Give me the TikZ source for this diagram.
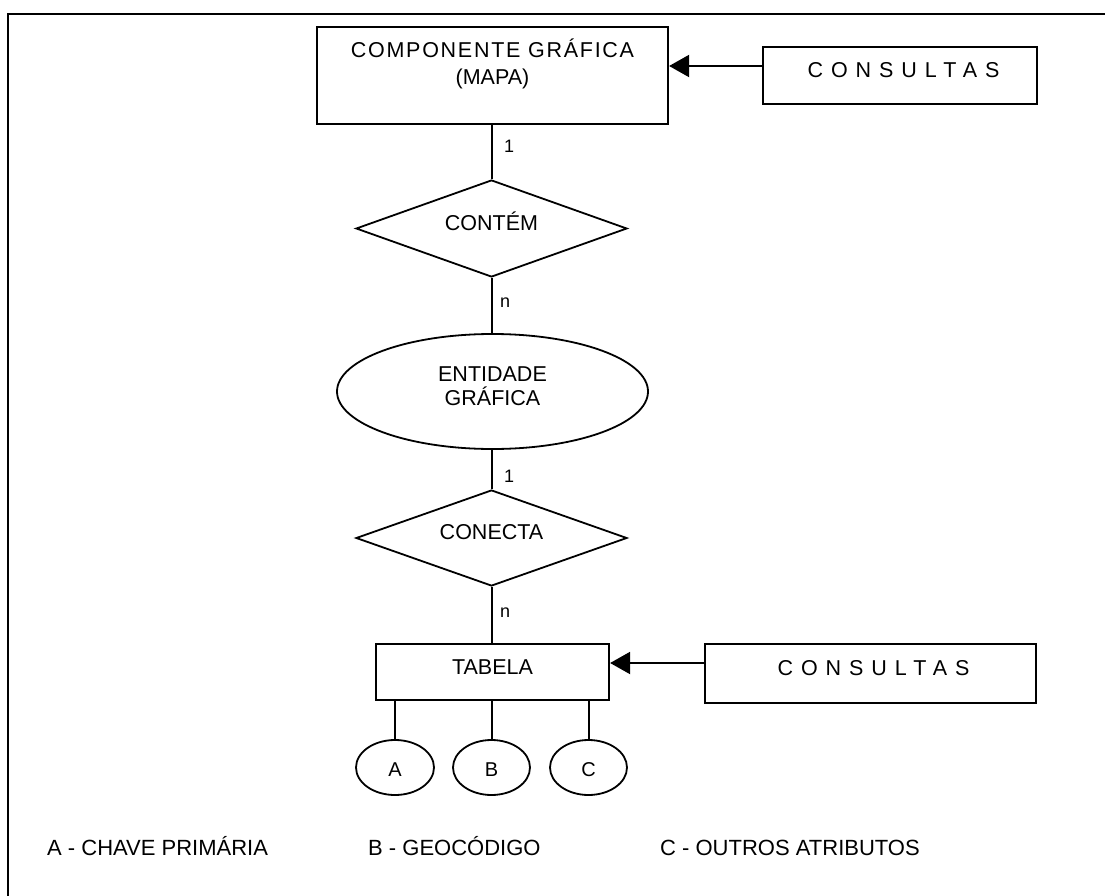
\documentclass[tikz,border=0pt]{standalone}
\usepackage{fontspec}
\setmainfont{Liberation Sans}
\newfontfamily\trackedfont[LetterSpace=37]{Liberation Sans}
\newfontfamily\widefont[LetterSpace=8]{Liberation Sans}
\usetikzlibrary{shapes.geometric,arrows.meta}

\begin{document}
\begin{tikzpicture}[x=1pt,y=-1pt,
  box/.style={draw, line width=2.2pt, inner sep=0pt},
  rel/.style={draw, diamond, line width=1.8pt, inner sep=0pt},
  ent/.style={draw, ellipse, line width=1.8pt, inner sep=0pt},
  txt/.style={inner sep=0pt, anchor=base, font=\fontsize{21.5}{26}\selectfont},
  card/.style={inner sep=0pt, anchor=base west, font=\fontsize{18}{22}\selectfont},
  legend/.style={inner sep=0pt, anchor=base west, font=\fontsize{22}{26}\selectfont},
  link/.style={line width=2pt},
  arr/.style={line width=2pt, -{Triangle[length=20pt,width=22pt]}}]

\useasboundingbox (0,0) rectangle (1105,896);

% frame (left and top edges)
\draw[line width=2.8pt] (8,896) -- (8,14) -- (1105,14);

% graphic component (map)
\node[box, minimum width=351pt, minimum height=97pt] (comp) at (492.5,75.5) {};
\node[txt] (compA) at (492.5,58) {\widefont COMPONENTE GRÁFICA};
\node[txt] (compB) at (492.5,85) {(MAPA)};

% queries on the map
\node[box, minimum width=274pt, minimum height=57pt] (cons1) at (900,75.5) {};
\node[txt] (cons1t) at (903.5,78) {\trackedfont CONSULTAS};
\draw[arr] ([yshift=9.5pt]cons1.west) -- ([yshift=9.5pt]cons1.west -| comp.east);

% relationship CONTÉM
\node[rel, minimum width=271pt, minimum height=97pt] (contem) at (491.5,228.5) {};
\node[txt] (contemt) at (491.5,230) {CONTÉM};

% graphic entity
\node[ent, minimum width=311pt, minimum height=115pt] (ent) at (492.5,391.5) {};
\node[txt] (entA) at (492.5,381) {ENTIDADE};
\node[txt] (entB) at (492.5,405) {GRÁFICA};

% relationship CONECTA
\node[rel, minimum width=271pt, minimum height=96pt] (conecta) at (491.5,538) {};
\node[txt] (conectat) at (491.5,539) {CONECTA};

% table
\node[box, minimum width=233pt, minimum height=56pt] (tab) at (492.5,672) {};
\node[txt] (tabt) at (492.5,674) {TABELA};

% queries on the table
\node[box, minimum width=331pt, minimum height=59pt] (cons2) at (870.5,673.5) {};
\node[txt] (cons2t) at (873.5,675) {\trackedfont CONSULTAS};
\draw[arr] ([yshift=10.5pt]cons2.west) -- ([yshift=10.5pt]cons2.west -| tab.east);

% attributes
\node[ent, minimum width=78pt, minimum height=55pt] (attA) at (395,767.5) {};
\node[ent, minimum width=77pt, minimum height=55pt] (attB) at (491.5,767.5) {};
\node[ent, minimum width=77pt, minimum height=55pt] (attC) at (588.5,767.5) {};
\node[txt, font=\fontsize{20}{24}\selectfont] (attAt) at (395,776) {A};
\node[txt, font=\fontsize{20}{24}\selectfont] (attBt) at (491.5,776) {B};
\node[txt, font=\fontsize{20}{24}\selectfont] (attCt) at (588.5,776) {C};

% connectors of the main chain
\draw[link] (comp.south -| contem.north) -- (contem.north);
\draw[link] (contem.south) -- (contem.south |- ent.north);
\draw[link] (ent.south -| conecta.north) -- (conecta.north);
\draw[link] (conecta.south) -- (conecta.south |- tab.north);
\draw[link] (attA.north |- tab.south) -- (attA.north);
\draw[link] (attB.north |- tab.south) -- (attB.north);
\draw[link] (attC.north |- tab.south) -- (attC.north);

% cardinalities
\node[card] (c1) at (504,153) {1};
\node[card] (c2) at (500,307) {n};
\node[card] (c3) at (504,482) {1};
\node[card] (c4) at (500,617) {n};

% legend
\node[legend] (legA) at (47,855) {A - CHAVE PRIMÁRIA};
\node[legend] (legB) at (368,855) {B - GEOCÓDIGO};
\node[legend] (legC) at (660,855) {C - OUTROS ATRIBUTOS};
\end{tikzpicture}
\end{document}
